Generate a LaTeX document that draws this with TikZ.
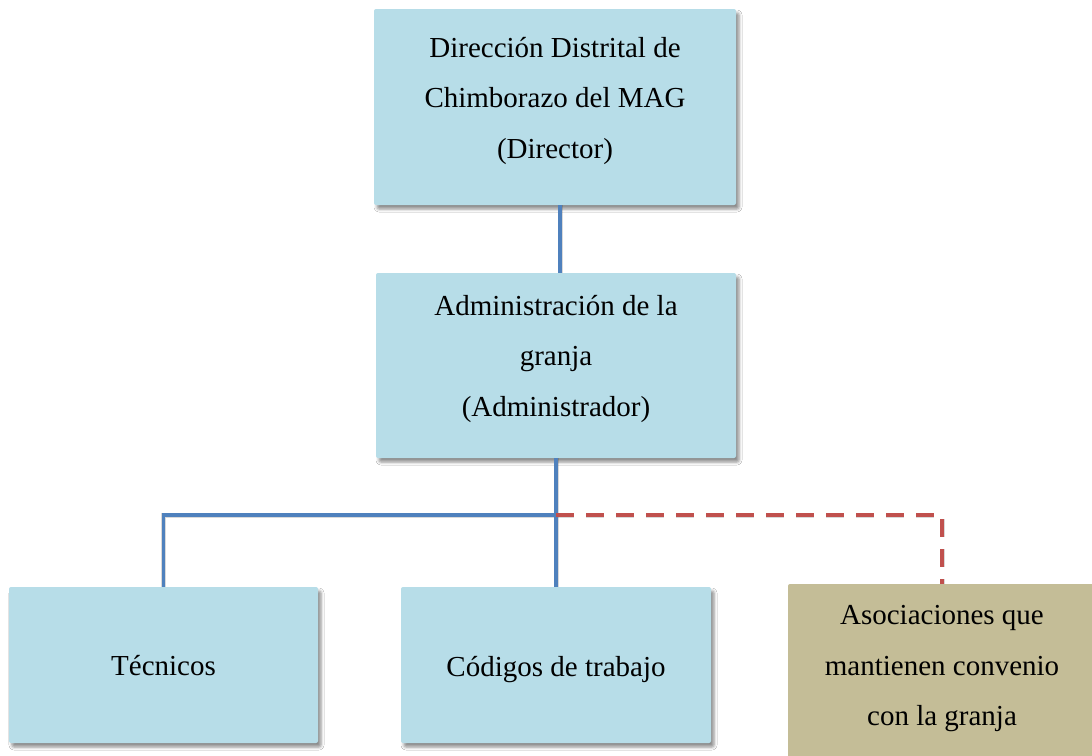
\documentclass[tikz,border=0pt]{standalone}
\usepackage{fontspec}
\setmainfont{Liberation Serif}
\usetikzlibrary{shadows.blur}
\definecolor{boxblue}{HTML}{B7DDE8}
\definecolor{boxtan}{HTML}{C4BD97}
\definecolor{lineblue}{HTML}{4F81BD}
\definecolor{linered}{HTML}{C0504D}
\tikzset{
  orgbox/.style={rectangle, rounded corners=2pt, draw=none, inner sep=0pt,
    blur shadow={shadow xshift=3pt, shadow yshift=-4pt, shadow blur radius=3pt, shadow opacity=45}},
  bluebox/.style={orgbox, fill=boxblue},
  tanbox/.style={orgbox, fill=boxtan},
  lbl/.style={font=\fontsize{29}{50.5}\selectfont, align=center, inner sep=0pt, text=black},
  solidlink/.style={draw=lineblue, line width=3.3pt},
  dashlink/.style={draw=linered, line width=4pt, dash pattern=on 18pt off 12pt},
  linkshadow/.style={draw=black, opacity=0.15, line width=5pt},
}
\begin{document}
\begin{tikzpicture}[x=1pt,y=-1pt]
\fill[white] (0,0) rectangle (1092,755);
\clip (0,0) rectangle (1092,755);

% boxes
\node[bluebox, minimum width=362pt, minimum height=196pt] (top) at (555,107) {};
\node[bluebox, minimum width=360pt, minimum height=185pt] (admin) at (556,365.5) {};
\node[bluebox, minimum width=309pt, minimum height=156pt] (tec) at (163.5,665) {};
\node[bluebox, minimum width=310pt, minimum height=156pt] (cod) at (556,665) {};
\node[tanbox, minimum width=308pt, minimum height=175pt] (asoc) at (942,671.5) {};

% labels
\node[lbl] (toptext) at (555,101) {Dirección Distrital de\\Chimborazo del MAG\\(Director)};
\node[lbl] (admintext) at (556,358.6) {Administración de la\\granja\\(Administrador)};
\node[lbl, anchor=base] (tectext) at (163.5,675) {Técnicos};
\node[lbl, anchor=base] (codtext) at (556,676) {Códigos de trabajo};
\node[lbl] (asoctext) at (942,668.9) {Asociaciones que\\mantienen convenio\\con la granja};

\coordinate (j) at (556,515);

% connector shadows
\begin{scope}[xshift=3pt, yshift=-3pt]
  \draw[linkshadow] ([xshift=5pt]top.south) -- ([xshift=5pt]top.south |- admin.north);
  \draw[linkshadow] (admin.south) -- (cod.north);
  \draw[linkshadow] (j) -| (tec.north);
  \draw[linkshadow, dash pattern=on 18pt off 12pt] (j) -| (asoc.north);
\end{scope}

% connectors
\draw[solidlink] ([xshift=5pt]top.south) -- ([xshift=5pt]top.south |- admin.north);
\draw[solidlink] (admin.south) -- (cod.north);
\draw[solidlink] (j) -| (tec.north);
\draw[dashlink] (j) -| (asoc.north);
\end{tikzpicture}
\end{document}
